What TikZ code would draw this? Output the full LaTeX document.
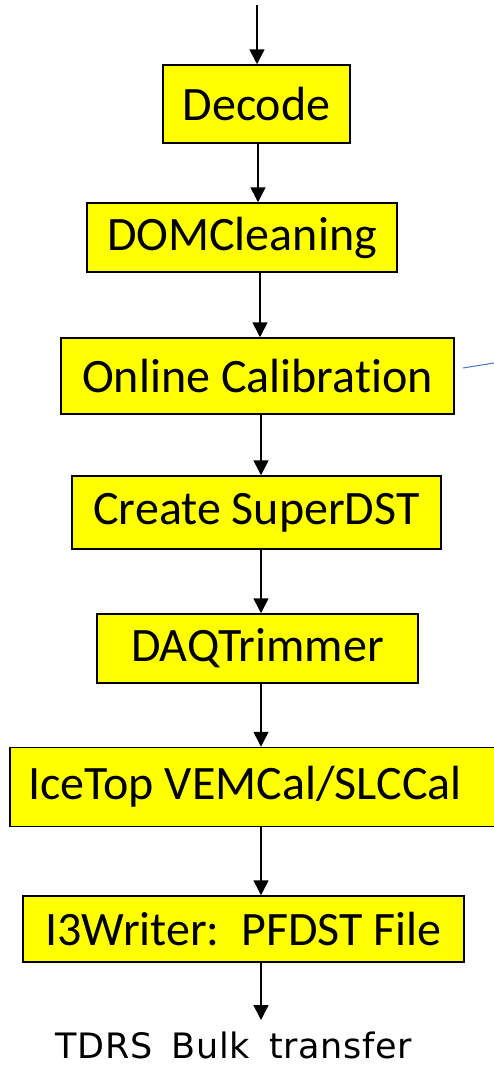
\documentclass[tikz,border=0pt]{standalone}
\usepackage{fontspec}
\setmainfont[Ligatures={NoCommon}]{Carlito}
\newfontfamily\comicfont[LetterSpace=2,WordSpace=1.6]{DejaVu Sans}
\usetikzlibrary{arrows.meta}
\definecolor{boxyellow}{RGB}{255,255,0}
\definecolor{thinblue}{RGB}{68,114,196}
\tikzset{
  stepbox/.style={draw=black, line width=1.5pt, fill=boxyellow, inner sep=0pt,
    font=\fontsize{48}{52}\selectfont, text=black},
  flow/.style={line width=1.6pt, -{Triangle[width=15pt,length=15pt]}}
}
\begin{document}
\begin{tikzpicture}[x=1pt,y=-1pt]
\useasboundingbox (0,0) rectangle (494,1068);
\node[stepbox, minimum width=187pt, minimum height=78pt] (dec) at (256.5,104) {Decode};
\node[stepbox, minimum width=310pt, minimum height=69pt] (dom) at (242,237.5) {DOMCleaning};
\node[stepbox, minimum width=393pt, minimum height=76pt] (cal) at (257.5,376) {Online Calibration};
\node[stepbox, minimum width=369pt, minimum height=73pt] (sdst) at (256.5,512.5) {Create SuperDST};
\node[stepbox, minimum width=321pt, minimum height=69pt] (daq) at (257.5,648.5) {DAQTrimmer};
\node[stepbox, minimum width=490pt, minimum height=79pt] (ice) at (255,787) {};
\node[font=\fontsize{48}{52}\selectfont, inner sep=0pt] (icet) at (245,787) {IceTop VEMCal/SLCCal};
\node[stepbox, minimum width=441pt, minimum height=66pt] (i3w) at (243.5,929) {I3Writer:\ \ PFDST File};
\node[font=\comicfont\fontsize{35}{40}\selectfont, inner sep=0pt, anchor=base] (tdrs) at (234,1058) {TDRS Bulk transfer};
\coordinate (top) at (257,5);
\coordinate (bot) at (261,1020);
\coordinate (b1) at (463,368);
\coordinate (b2) at (494,363);
\draw[flow] (top) -- (top |- dec.north);
\draw[flow] (dec.south -| 258,0) -- (dom.north -| 258,0);
\draw[flow] (dom.south -| 260,0) -- (cal.north -| 260,0);
\draw[flow] (cal.south -| 261,0) -- (sdst.north -| 261,0);
\draw[flow] (sdst.south -| 261,0) -- (daq.north -| 261,0);
\draw[flow] (daq.south -| 261,0) -- (ice.north -| 261,0);
\draw[flow] (ice.south -| 261,0) -- (i3w.north -| 261,0);
\draw[flow] (i3w.south -| 261,0) -- (bot);
\draw[thinblue, line width=1pt] (b1) -- (b2);
\end{tikzpicture}
\end{document}
